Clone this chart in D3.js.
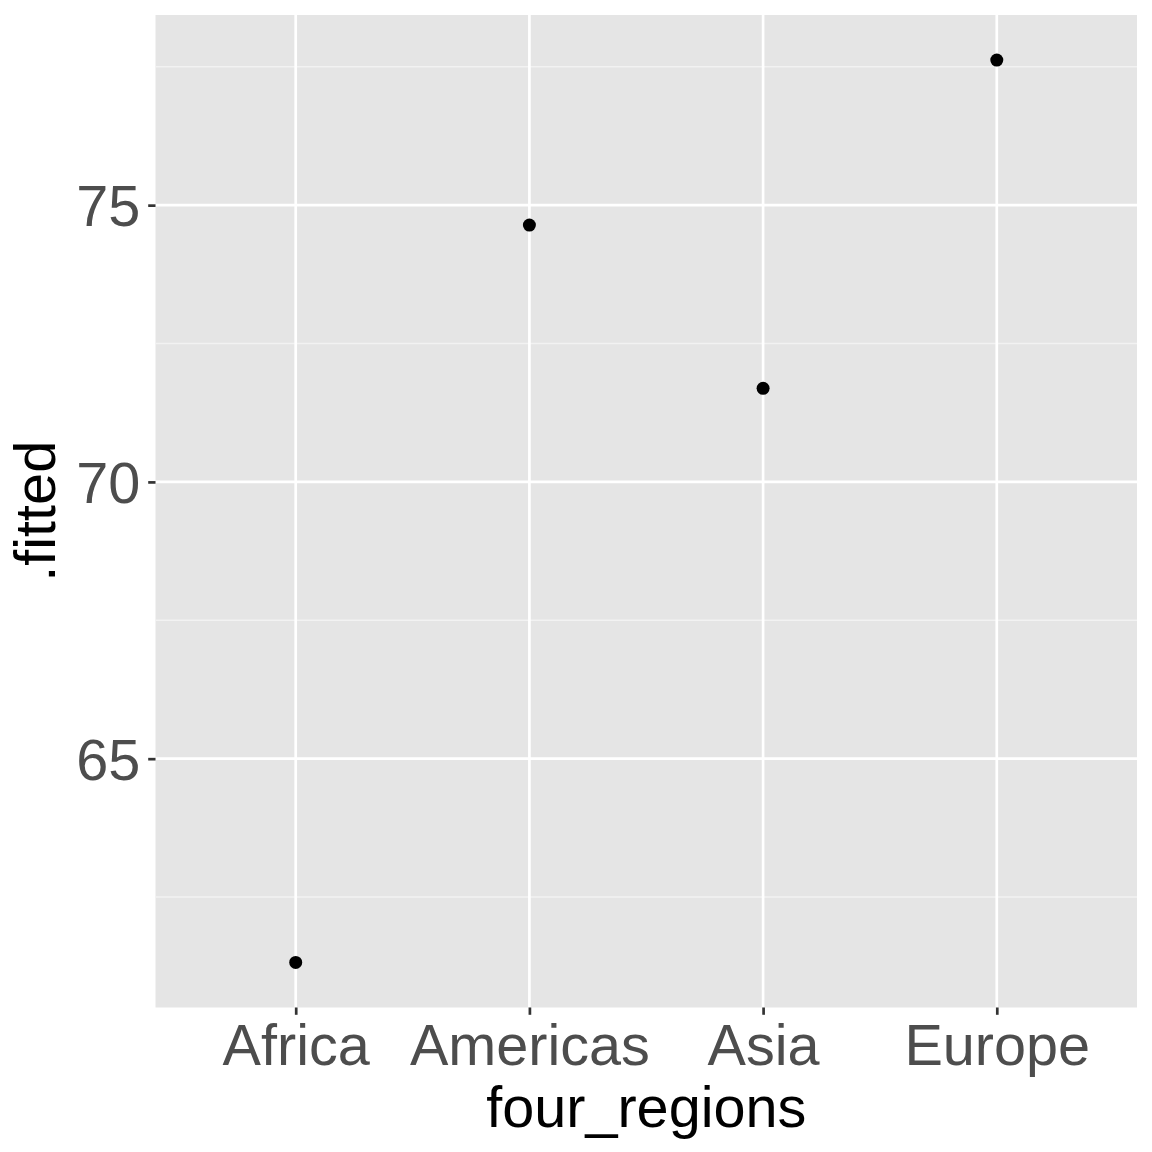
<!DOCTYPE html>
<html><head><meta charset="utf-8">
<script src="https://cdn.jsdelivr.net/npm/d3@7"></script>
<style>body{margin:0;background:#fff}svg{display:block}</style>
</head><body>
<svg id="c" width="1152" height="1152"></svg>
<script>
const categories = ["Africa", "Americas", "Asia", "Europe"];
const fitted = [61.32, 74.64, 71.69, 77.62];
const yTicks = [65, 70, 75];
const yMinorTicks = [62.5, 67.5, 72.5, 77.5];

const svg = d3.select("#c");
const L = 155.5, R = 1137, T = 15, B = 1007.5;
const font = "'Liberation Sans', Arial, sans-serif";

const yMin = d3.min(fitted), yMax = d3.max(fitted);
const pad = (yMax - yMin) * 0.05;
const y = d3.scaleLinear().domain([yMin - pad, yMax + pad]).range([B, T]);
const xi = d3.scaleLinear().domain([0.4, 4.6]).range([L, R]);
const x = c => xi(categories.indexOf(c) + 1);

svg.append("rect").attr("x", L).attr("y", T).attr("width", R - L).attr("height", B - T).attr("fill", "#E5E5E5");

const g = svg.append("g");
g.selectAll(".ymin").data(yMinorTicks).join("line")
  .attr("x1", L).attr("x2", R).attr("y1", d => y(d)).attr("y2", d => y(d))
  .attr("stroke", "#F2F2F2").attr("stroke-width", 1.4);
g.selectAll(".ymaj").data(yTicks).join("line")
  .attr("x1", L).attr("x2", R).attr("y1", d => y(d)).attr("y2", d => y(d))
  .attr("stroke", "#fff").attr("stroke-width", 2.7);
g.selectAll(".xmaj").data(categories).join("line")
  .attr("x1", d => x(d)).attr("x2", d => x(d)).attr("y1", T).attr("y2", B)
  .attr("stroke", "#fff").attr("stroke-width", 2.7);

// y axis
const yAxis = d3.axisLeft(y).tickValues(yTicks).tickSize(7.3).tickPadding(8).tickFormat(d3.format("d"));
const ya = svg.append("g").attr("transform", `translate(${L},0)`).call(yAxis);
ya.select(".domain").remove();
ya.selectAll(".tick line").attr("stroke", "#333333").attr("stroke-width", 2.7);
ya.selectAll(".tick text").attr("fill", "#4D4D4D").attr("font-family", font).attr("font-size", 57.6).attr("dy", "0.36em");

// x axis
const xs = d3.scalePoint().domain(categories).range([x(categories[0]), x(categories[3])]);
const xAxis = d3.axisBottom(xs).tickSize(7.3).tickPadding(0);
const xa = svg.append("g").attr("transform", `translate(0,${B})`).call(xAxis);
xa.select(".domain").remove();
xa.selectAll(".tick line").attr("stroke", "#333333").attr("stroke-width", 2.7);
xa.selectAll(".tick text").attr("fill", "#4D4D4D").attr("font-family", font).attr("font-size", 57.6)
  .attr("dy", null).attr("y", 57);

// points
svg.selectAll("circle").data(categories).join("circle")
  .attr("cx", d => x(d)).attr("cy", (d, i) => y(fitted[i])).attr("r", 6.5).attr("fill", "#000");

// titles
svg.append("text").attr("x", (L + R) / 2).attr("y", 1127).attr("text-anchor", "middle")
  .attr("font-family", font).attr("font-size", 57.6).attr("fill", "#000").text("four_regions");
svg.append("text").attr("transform", `translate(55,${(T + B) / 2}) rotate(-90)`).attr("text-anchor", "middle")
  .attr("font-family", font).attr("font-size", 57.6).attr("fill", "#000").text(".fitted");
</script>
</body></html>
